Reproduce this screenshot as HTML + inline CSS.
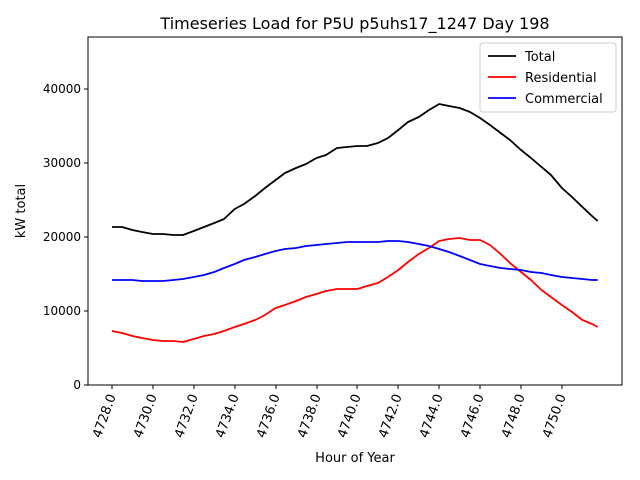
<!DOCTYPE html><html><head><style>body{margin:0;background:#fff}svg{display:block;font-family:"DejaVu Sans","Liberation Sans",sans-serif}</style></head><body>
<svg width="640" height="480" viewBox="0 0 640 480">
<rect width="640" height="480" fill="#fff"/>
<text x="355" y="29" font-size="16" text-anchor="middle">Timeseries Load for P5U p5uhs17_1247  Day 198</text>
<g font-size="12" text-anchor="end">
<text x="81" y="389">0</text><text x="81" y="315">10000</text><text x="81" y="241">20000</text><text x="81" y="167">30000</text><text x="81" y="93">40000</text>
</g>
<g stroke="#000"><line x1="84" y1="385" x2="88" y2="385"/><line x1="84" y1="311" x2="88" y2="311"/><line x1="84" y1="237" x2="88" y2="237"/><line x1="84" y1="163" x2="88" y2="163"/><line x1="84" y1="89" x2="88" y2="89"/></g>
<text x="25" y="211" font-size="13" text-anchor="middle" transform="rotate(-90 25 211)">kW total</text>
<text x="355" y="462" font-size="13" text-anchor="middle">Hour of Year</text>
<g fill="none" stroke-width="1.8" stroke-linejoin="round">
<polyline stroke="#000" points="112,227 122,227 132.5,230 142,232 153,234 163,234 173.4,235 183,235 193.8,231 204,227 214.3,223 224,219 234.7,209 244,204 255.2,196 265,188 275.6,180 285,173 296,168 306,164 316.5,158 326,155 337,148 347,147 357.4,146 367,146 377.9,143 388,138 398.3,130 408,122 418.8,117 429,110 439.2,104 449,106 459.7,108 470,112 480.1,118 490,125 500.6,133 510,140 521,150 531,158 541.5,167 551,175 561.9,188 572,197 582.4,207 592,216 597.7,221"/>
<polyline stroke="#f00" points="112,331 122,333 132.5,336 142,338 153,340 163,341 173.4,341 183,342 193.8,339 204,336 214.3,334 224,331 234.7,327 244,324 255.2,320 265,315 275.6,308 285,305 296,301 306,297 316.5,294 326,291 337,289 347,289 357.4,289 367,286 377.9,283 388,277 398.3,270 408,262 418.8,254 429,248 439.2,241 449,239 459.7,238 470,240 480.1,240 490,245 500.6,254 510,263 521,272 531,280 541.5,290 551,297 561.9,305 572,312 582.4,320 592,324 597.7,327"/>
<polyline stroke="#00f" points="112,280 122,280 132.5,280 142,281 153,281 163,281 173.4,280 183,279 193.8,277 204,275 214.3,272 224,268 234.7,264 244,260 255.2,257 265,254 275.6,251 285,249 296,248 306,246 316.5,245 326,244 337,243 347,242 357.4,242 367,242 377.9,242 388,241 398.3,241 408,242 418.8,244 429,246 439.2,249 449,252 459.7,256 470,260 480.1,264 490,266 500.6,268 510,269 521,270 531,272 541.5,273 551,275 561.9,277 572,278 582.4,279 592,280 597.7,280"/>
</g>
<rect x="88" y="37" width="534" height="348" fill="none" stroke="#000"/>
<rect x="480" y="43" width="136" height="69" fill="#fff" stroke="#ccc" rx="3"/>
<g stroke-width="1.8"><line x1="488" y1="56" x2="516" y2="56" stroke="#000"/><line x1="488" y1="77" x2="516" y2="77" stroke="#f00"/><line x1="488" y1="98" x2="516" y2="98" stroke="#00f"/></g>
<g font-size="13"><text x="525" y="61">Total</text><text x="525" y="82">Residential</text><text x="525" y="103">Commercial</text></g>
<g stroke="#000">
<line x1="112" y1="385" x2="112" y2="389"/><line x1="153" y1="385" x2="153" y2="389"/><line x1="194" y1="385" x2="194" y2="389"/><line x1="235" y1="385" x2="235" y2="389"/><line x1="276" y1="385" x2="276" y2="389"/><line x1="317" y1="385" x2="317" y2="389"/><line x1="357" y1="385" x2="357" y2="389"/><line x1="398" y1="385" x2="398" y2="389"/><line x1="439" y1="385" x2="439" y2="389"/><line x1="480" y1="385" x2="480" y2="389"/><line x1="521" y1="385" x2="521" y2="389"/><line x1="562" y1="385" x2="562" y2="389"/>
</g>
<g font-size="13" text-anchor="end">
<text transform="translate(116,396) rotate(-70)">4728.0</text>
<text transform="translate(157,396) rotate(-70)">4730.0</text>
<text transform="translate(198,396) rotate(-70)">4732.0</text>
<text transform="translate(239,396) rotate(-70)">4734.0</text>
<text transform="translate(280,396) rotate(-70)">4736.0</text>
<text transform="translate(321,396) rotate(-70)">4738.0</text>
<text transform="translate(361,396) rotate(-70)">4740.0</text>
<text transform="translate(402,396) rotate(-70)">4742.0</text>
<text transform="translate(443,396) rotate(-70)">4744.0</text>
<text transform="translate(484,396) rotate(-70)">4746.0</text>
<text transform="translate(525,396) rotate(-70)">4748.0</text>
<text transform="translate(566,396) rotate(-70)">4750.0</text>
</g>
</svg></body></html>
